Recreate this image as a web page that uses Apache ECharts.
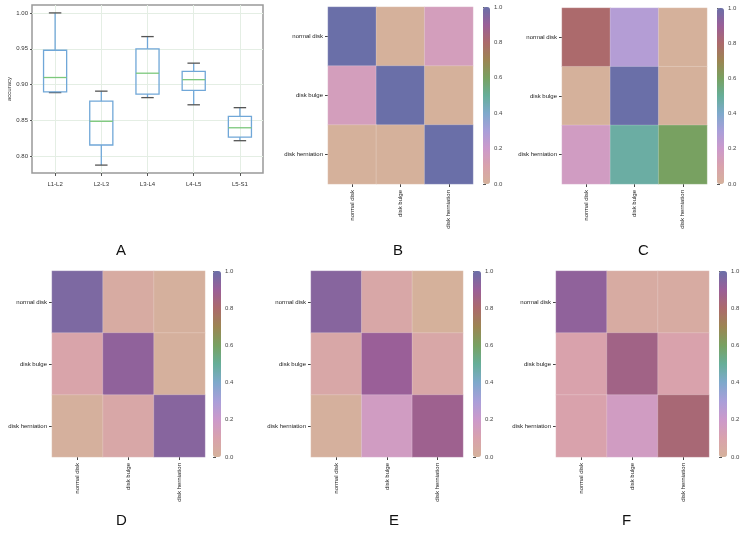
<!DOCTYPE html>
<html><head><meta charset="utf-8">
<script src="https://cdn.jsdelivr.net/npm/echarts@6/dist/echarts.min.js"></script>
<style>html,body{margin:0;padding:0;background:#fff}#c{width:746px;height:541px}</style>
</head><body><div id="c"></div>
<script>
// ---- Panel A: box plot stats ----
const boxCategories = ['L1-L2', 'L2-L3', 'L3-L4', 'L4-L5', 'L5-S1'];
const boxMin    = [0.889, 0.788, 0.882, 0.872, 0.822];
const boxQ1     = [0.890, 0.816, 0.887, 0.892, 0.827];
const boxMedian = [0.910, 0.849, 0.916, 0.907, 0.840];
const boxQ3     = [0.948, 0.877, 0.950, 0.9185, 0.856];
const boxMax    = [1.000, 0.891, 0.967, 0.930, 0.868];
const accuracyTicks = [0.80, 0.85, 0.90, 0.95, 1.00];

// ---- Panels B-F: confusion heatmaps (rows = true class top to bottom) ----
const classLabels = ['normal disk', 'disk bulge', 'disk herniation'];
const matrixB = [[1.00, 0.00, 0.15], [0.15, 1.00, 0.00], [0.00, 0.00, 1.00]];
const matrixC = [[0.80, 0.27, 0.00], [0.00, 1.00, 0.00], [0.17, 0.48, 0.60]];
const matrixD = [[0.96, 0.04, 0.01], [0.09, 0.92, 0.01], [0.01, 0.07, 0.94]];
const matrixE = [[0.94, 0.07, 0.00], [0.07, 0.90, 0.07], [0.01, 0.17, 0.88]];
const matrixF = [[0.92, 0.04, 0.04], [0.10, 0.86, 0.10], [0.10, 0.17, 0.82]];
const colorbarTicks = [0, 0.2, 0.4, 0.6, 0.8, 1.0];
const panelLetters = ['A', 'B', 'C', 'D', 'E', 'F'];

const cmap = ['#d5b19b', '#d9a2ac', '#cc99cb', '#a99fd9', '#7fa9cc', '#66ae99',
              '#78a161', '#9c8552', '#ac6a6c', '#9a5f98', '#6a6fa8'];

const FONT = 'Liberation Sans';
const heatPanels = [
  { m: matrixB, g: { left: 328, top: 7, width: 145, height: 177 }, cb: { left: 483, w: 7 } },
  { m: matrixC, g: { left: 562, top: 8, width: 145, height: 176 }, cb: { left: 717, w: 7 } },
  { m: matrixD, g: { left: 52, top: 271, width: 153, height: 186 }, cb: { left: 213, w: 8 } },
  { m: matrixE, g: { left: 311, top: 271, width: 152, height: 186 }, cb: { left: 473, w: 8 } },
  { m: matrixF, g: { left: 556, top: 271, width: 153, height: 186 }, cb: { left: 719, w: 8 } }
];
const letterPos = [[121, 251], [398, 251], [643, 251], [121, 521], [394, 521], [627, 521]];

const grid = [], xAxis = [], yAxis = [], series = [], visualMap = [];

// Panel A grid
grid.push({ left: 32, top: 5, width: 231, height: 168, show: true, borderColor: '#999', borderWidth: 1.5 });
xAxis.push({
  gridIndex: 0, type: 'category', data: boxCategories,
  axisLine: { show: false },
  axisTick: { show: true, alignWithLabel: true, length: 3, lineStyle: { color: '#555' } },
  axisLabel: { fontSize: 6, fontFamily: FONT, color: '#333', margin: 8 },
  splitLine: { show: true, alignWithLabel: true, lineStyle: { color: '#e4eee4', width: 1 } }
});
yAxis.push({
  gridIndex: 0, type: 'value', min: 0.777, max: 1.011,
  name: 'accuracy', nameLocation: 'middle', nameGap: 16, nameRotate: 90,
  nameTextStyle: { fontSize: 6, fontFamily: FONT, color: '#333' },
  axisLine: { show: false },
  axisTick: { show: true, length: 2, customValues: accuracyTicks, lineStyle: { color: '#555' } },
  axisLabel: { fontSize: 6, fontFamily: FONT, color: '#333', margin: 4, customValues: accuracyTicks,
               formatter: v => v.toFixed(2) },
  splitLine: { show: true, lineStyle: { color: '#e4eee4', width: 1 } }
});
const BLUE = '#70a7d8', CAP = '#555555', MED = '#7cc87c';
series.push({
  type: 'custom', xAxisIndex: 0, yAxisIndex: 0, silent: true,
  data: boxCategories.map((c, i) => [i, boxMin[i], boxQ1[i], boxMedian[i], boxQ3[i], boxMax[i]]),
  encode: { x: 0, y: [1, 2, 3, 4, 5] },
  renderItem(params, api) {
    const i = api.value(0);
    const band = api.size([1, 0])[0];
    const p = k => api.coord([i, api.value(k)]);
    const pMin = p(1), pQ1 = p(2), pMed = p(3), pQ3 = p(4), pMax = p(5);
    const x = pMin[0], bw = band * 0.5, cw = band * 0.27;
    const ln = (x1, y1, x2, y2, c, w) => ({ type: 'line', shape: { x1, y1, x2, y2 }, style: { stroke: c, lineWidth: w } });
    return { type: 'group', children: [
      ln(x, pMax[1], x, pQ3[1], BLUE, 1.3),
      ln(x, pQ1[1], x, pMin[1], BLUE, 1.3),
      ln(x - cw / 2, pMax[1], x + cw / 2, pMax[1], CAP, 1.3),
      ln(x - cw / 2, pMin[1], x + cw / 2, pMin[1], CAP, 1.3),
      { type: 'rect', shape: { x: x - bw / 2, y: pQ3[1], width: bw, height: pQ1[1] - pQ3[1] },
        style: { fill: 'none', stroke: BLUE, lineWidth: 1.3 } },
      ln(x - bw / 2, pMed[1], x + bw / 2, pMed[1], MED, 1.3)
    ] };
  }
});

// Heatmap panels
heatPanels.forEach((hp, k) => {
  const gi = grid.length;
  grid.push(Object.assign({}, hp.g));
  xAxis.push({
    gridIndex: gi, type: 'category', data: classLabels,
    axisLine: { show: false },
    axisTick: { show: true, alignWithLabel: true, length: 3, lineStyle: { color: '#444' } },
    axisLabel: { rotate: 90, fontSize: 6, fontFamily: FONT, color: '#222', margin: 6 },
    splitLine: { show: false }
  });
  yAxis.push({
    gridIndex: gi, type: 'category', data: classLabels, inverse: true,
    axisLine: { show: false },
    axisTick: { show: true, alignWithLabel: true, length: 3, lineStyle: { color: '#444' } },
    axisLabel: { fontSize: 6, fontFamily: FONT, color: '#222', margin: 5 },
    splitLine: { show: false }
  });
  const data = [];
  hp.m.forEach((row, r) => row.forEach((v, c) => data.push([c, r, v])));
  const si = series.length;
  series.push({
    type: 'heatmap', xAxisIndex: gi, yAxisIndex: gi, data, silent: true,
    itemStyle: { borderColor: 'rgba(255,255,255,0.25)', borderWidth: 0.8 },
    emphasis: { disabled: true }
  });
  visualMap.push({
    type: 'continuous', seriesIndex: si, min: 0, max: 1, inRange: { color: cmap },
    orient: 'vertical', left: hp.cb.left, top: hp.g.top, itemWidth: hp.cb.w, itemHeight: hp.g.height,
    calculable: false, text: null, padding: 0, hoverLink: false, realtime: false
  });
  // colorbar tick axis
  const ci = grid.length;
  grid.push({ left: hp.cb.left, top: hp.g.top, width: hp.cb.w, height: hp.g.height });
  xAxis.push({ gridIndex: ci, type: 'value', show: false, min: 0, max: 1 });
  yAxis.push({
    gridIndex: ci, type: 'value', position: 'right', min: 0, max: 1, interval: 0.2,
    axisLine: { show: false },
    axisTick: { show: true, length: 3, lineStyle: { color: '#555' } },
    axisLabel: { fontSize: 6, fontFamily: FONT, color: '#444', margin: 4,
                 customValues: colorbarTicks, formatter: v => v.toFixed(1) },
    splitLine: { show: false }
  });
});

const graphic = panelLetters.map((t, i) => ({
  type: 'text', left: letterPos[i][0] - 5, top: letterPos[i][1] - 8,
  style: { text: t, fontSize: 15, fontFamily: FONT, fill: '#111' }
}));

const chart = echarts.init(document.getElementById('c'), null, { renderer: 'canvas' });
chart.setOption({
  backgroundColor: '#fff', animation: false,
  grid, xAxis, yAxis, series, visualMap, graphic
});
</script>
</body></html>
